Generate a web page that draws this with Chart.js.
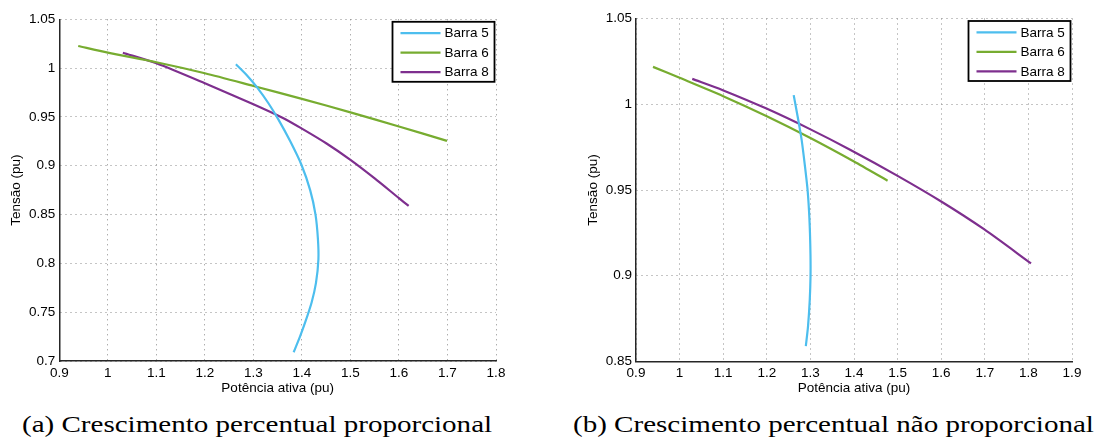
<!DOCTYPE html>
<html>
<head>
<meta charset="utf-8">
<script src="https://cdn.jsdelivr.net/npm/chart.js@4.4.1/dist/chart.umd.min.js"></script>
<style>
  body { margin: 0; background: #fff; width: 1094px; height: 441px; position: relative; overflow: hidden; }
  .panel { position: absolute; top: 0; width: 547px; height: 400px; }
  .caption {
    position: absolute; top: 411.6px;
    font-family: "Liberation Serif", serif; font-size: 24px; line-height: 24px;
    white-space: nowrap; color: #000;
    transform-origin: 0 0; transform: scaleX(1.21);
  }
</style>
</head>
<body>
<div class="panel" style="left:0"><canvas id="chartA" width="547" height="400"></canvas></div>
<div class="panel" style="left:547px"><canvas id="chartB" width="547" height="400"></canvas></div>
<div class="caption" style="left:22px">(a) Crescimento percentual proporcional</div>
<div class="caption" style="left:573px">(b) Crescimento percentual não proporcional</div>

<script>
// ----- data (potência ativa in pu, tensão in pu) -----
const seriesLabels = ["Barra 5", "Barra 6", "Barra 8"]

// (a) crescimento proporcional
const barra5A_p = [1.264, 1.286, 1.308, 1.331, 1.352, 1.376, 1.399, 1.417, 1.428, 1.433, 1.434, 1.429, 1.420, 1.407, 1.396, 1.383]
const barra5A_v = [1.004, 0.993, 0.980, 0.964, 0.947, 0.925, 0.901, 0.875, 0.850, 0.825, 0.804, 0.780, 0.760, 0.740, 0.725, 0.709]
const barra6A_p = [0.939, 1.0, 1.1, 1.2, 1.3, 1.4, 1.5, 1.6, 1.699]
const barra6A_v = [1.0227, 1.0158, 1.006, 0.9947, 0.9817, 0.9685, 0.9547, 0.9402, 0.9255]
const barra8A_p = [1.031, 1.1, 1.2, 1.3, 1.362, 1.4, 1.45, 1.5, 1.55, 1.6, 1.62]
const barra8A_v = [1.0158, 1.005, 0.9845, 0.963, 0.9487, 0.938, 0.923, 0.906, 0.887, 0.8668, 0.8589]

// (b) crescimento não proporcional
const barra5B_p = [1.2617, 1.2723, 1.2800, 1.2877, 1.2932, 1.2968, 1.2990, 1.3002, 1.3003, 1.2985, 1.2945, 1.2895]
const barra5B_v = [1.0053, 0.9907, 0.9791, 0.9635, 0.9509, 0.9380, 0.9250, 0.9120, 0.9000, 0.8858, 0.8703, 0.8590]
const barra6B_p = [0.939, 1.0, 1.1, 1.2, 1.3, 1.4, 1.477]
const barra6B_v = [1.0218, 1.0154, 1.0047, 0.9930, 0.9803, 0.9666, 0.9554]
const barra8B_p = [1.029, 1.099, 1.198, 1.299, 1.391, 1.499, 1.600, 1.699, 1.806]
const barra8B_v = [1.0148, 1.0082, 0.9976, 0.9855, 0.9735, 0.9584, 0.9433, 0.9270, 0.9072]

// tick values
const xTicksA = [0.9, 1, 1.1, 1.2, 1.3, 1.4, 1.5, 1.6, 1.7, 1.8]
const yTicksA = [0.7, 0.75, 0.8, 0.85, 0.9, 0.95, 1, 1.05]
const xTicksB = [0.9, 1, 1.1, 1.2, 1.3, 1.4, 1.5, 1.6, 1.7, 1.8, 1.9]
const yTicksB = [0.85, 0.9, 0.95, 1, 1.05]

const colors = ["#4dbeee", "#77ac30", "#7e2f8e"]
const fontSans = { family: "'Liberation Sans', Arial, sans-serif", size: 13.5 }

// legend box drawn inside the plot, top right
const boxLegend = {
  id: "boxLegend",
  afterDraw(chart) {
    const { ctx, chartArea } = chart
    const w = 102, h = 60
    const x0 = chartArea.right - w - 1.5
    const y0 = chartArea.top + 2.5
    ctx.save()
    ctx.fillStyle = "#fff"
    ctx.fillRect(x0, y0, w, h)
    ctx.lineWidth = 1.8
    ctx.strokeStyle = "#000"
    ctx.strokeRect(x0, y0, w, h)
    ctx.font = `${fontSans.size}px ${fontSans.family}`
    ctx.textBaseline = "middle"
    chart.data.datasets.forEach((ds, i) => {
      const yy = y0 + 11.3 + i * 19.5
      ctx.strokeStyle = ds.borderColor
      ctx.lineWidth = 2.2
      ctx.beginPath()
      ctx.moveTo(x0 + 8, yy)
      ctx.lineTo(x0 + 48, yy)
      ctx.stroke()
      ctx.fillStyle = "#000"
      ctx.fillText(ds.label, x0 + 52, yy + 0.5)
    })
    ctx.restore()
  }
}

function toPoints(p, v) {
  return p.map((x, i) => ({ x, y: v[i] }))
}

function makeChart(id, series, xTicks, yTicks, pad) {
  const datasets = series.map((s, i) => ({
    label: seriesLabels[i],
    data: toPoints(s[0], s[1]),
    borderColor: colors[i],
    backgroundColor: colors[i],
    borderWidth: 2.2,
    pointRadius: 0,
    showLine: true,
    tension: 0.25,
    fill: false
  }))

  const axisCommon = {
    type: "linear",
    grid: { color: "#8a8a8a", lineWidth: 1, drawTicks: false },
    border: { display: true, color: "#262626", width: 1.5, dash: [1, 4] },
    ticks: { color: "#000", font: fontSans, padding: 4, autoSkip: false, maxRotation: 0 }
  }

  return new Chart(document.getElementById(id), {
    type: "scatter",
    data: { datasets },
    plugins: [boxLegend],
    options: {
      responsive: false,
      animation: false,
      layout: { padding: { left: pad.left, top: pad.top, right: pad.right, bottom: 0 } },
      plugins: { legend: { display: false }, tooltip: { enabled: false } },
      scales: {
        x: {
          ...axisCommon,
          min: xTicks[0],
          max: xTicks[xTicks.length - 1],
          afterBuildTicks: s => { s.ticks = xTicks.map(v => ({ value: v })) },
          afterFit: s => { s.height = 400 - pad.bottomAxis },
          ticks: { ...axisCommon.ticks, callback: v => String(v) },
          title: { display: true, text: "Potência ativa (pu)", color: "#000", font: fontSans, padding: { top: 0, bottom: 3.9 } }
        },
        y: {
          ...axisCommon,
          min: yTicks[0],
          max: yTicks[yTicks.length - 1],
          afterBuildTicks: s => { s.ticks = yTicks.map(v => ({ value: v })) },
          afterFit: s => { s.width = pad.yWidth },
          ticks: { ...axisCommon.ticks, callback: v => String(v) },
          title: { display: true, text: "Tensão (pu)", color: "#000", font: fontSans, padding: { top: 7.7, bottom: 0 } }
        }
      }
    }
  })
}

makeChart("chartA",
  [[barra5A_p, barra5A_v], [barra6A_p, barra6A_v], [barra8A_p, barra8A_v]],
  xTicksA, yTicksA,
  { left: 0, top: 19.3, right: 51, yWidth: 59.3, bottomAxis: 361 })

makeChart("chartB",
  [[barra5B_p, barra5B_v], [barra6B_p, barra6B_v], [barra8B_p, barra8B_v]],
  xTicksB, yTicksB,
  { left: 30, top: 18.5, right: 22, yWidth: 59, bottomAxis: 361.5 })
</script>
</body>
</html>
